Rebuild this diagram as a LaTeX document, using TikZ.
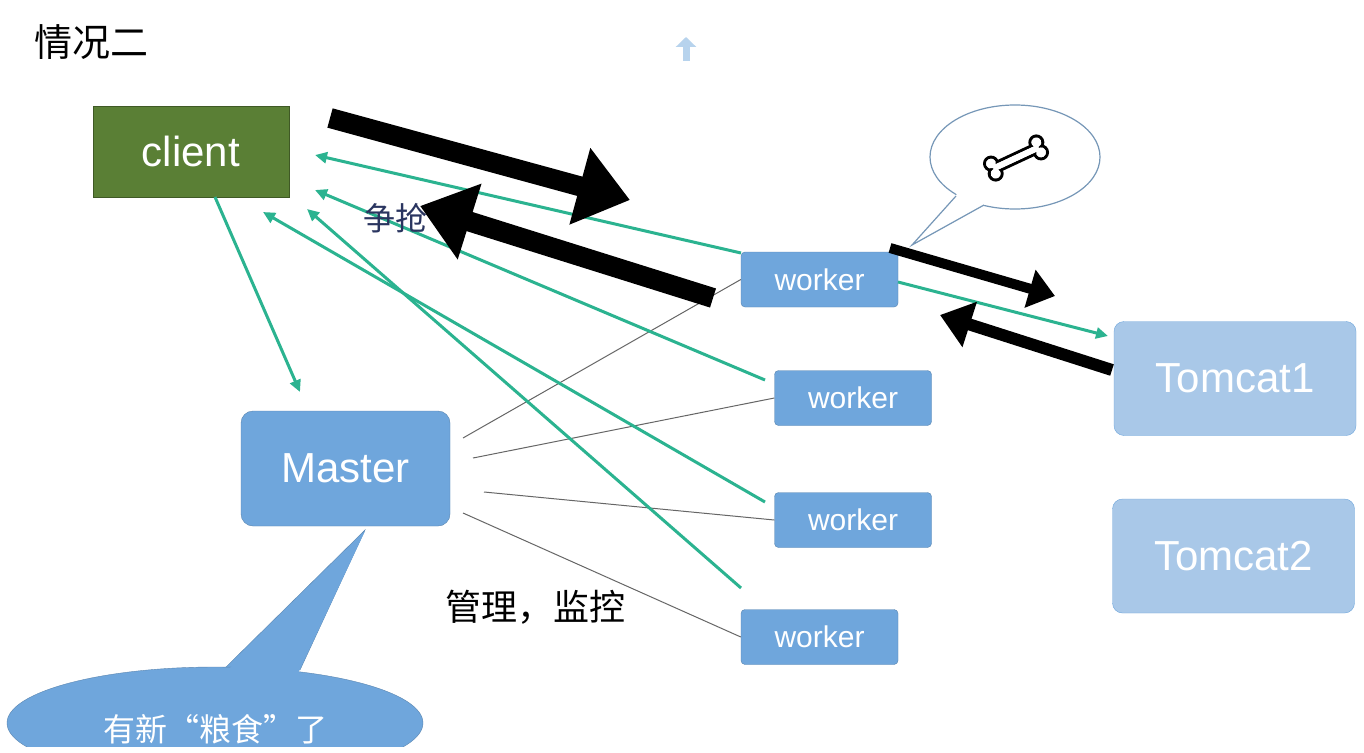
\documentclass[tikz,border=0pt]{standalone}
\usepackage{fontspec}
\setmainfont{Liberation Sans}
\newfontfamily\cjk{Noto Sans CJK SC}
\usetikzlibrary{arrows.meta,shapes.geometric}
\definecolor{boxblue}{HTML}{6FA6DC}
\definecolor{lightblue}{HTML}{A9C8E8}
\definecolor{teal}{HTML}{2BB390}
\definecolor{olive}{HTML}{5A7F35}
\definecolor{navy}{HTML}{2A3560}
\tikzset{
 wbox/.style={draw=boxblue!80!black,fill=boxblue,rounded corners=4pt,text=white,font=\fontsize{30}{30}\selectfont,minimum width=157pt,minimum height=55pt},
 tbox/.style={draw=boxblue,fill=lightblue,rounded corners=10pt,text=white,font=\fontsize{42}{42}\selectfont,minimum width=242pt,minimum height=114pt},
 tarr/.style={teal,line width=3pt,-{Triangle[length=12pt,width=11pt]}},
 garr/.style={gray!80!black,line width=1pt},
 barr/.style={line width=#1,-{Triangle[length=2.6*#1,width=3.8*#1]}},
}
\begin{document}
\begin{tikzpicture}[x=1pt,y=-1pt]
\useasboundingbox (0,0) rectangle (1364,752);
\fill[white] (0,0) rectangle (1364,752);
\node[anchor=west,font=\cjk\fontsize{38}{38}\selectfont] (title) at (31,42) {情况二};
\draw[boxblue!50,line width=7pt,-{Triangle[length=10pt,width=20pt]}] (686,61) -- (686,37);
\node[draw=olive!70!black,fill=olive,text=white,minimum width=196pt,minimum height=91pt,font=\fontsize{42}{42}\selectfont] (client) at (191,151.5) {client};
\node[draw=boxblue!80!black,fill=boxblue,rounded corners=12pt,minimum width=209pt,minimum height=115pt,text=white,font=\fontsize{42}{42}\selectfont] (master) at (345.5,468.5) {Master};
\node[wbox] (w1) at (819.5,279.5) {worker};
\node[wbox] (w2) at (853,398) {worker};
\node[wbox] (w3) at (853,520) {worker};
\node[wbox] (w4) at (819.5,637) {worker};
\node[tbox] (t1) at (1235,378.5) {Tomcat1};
\node[tbox] (t2) at (1233.5,556) {Tomcat2};
% gray lines
\draw[garr] (463,438) -- (w1.west);
\draw[garr] (473,458) -- (w2.west);
\draw[garr] (484,492) -- (w3.west);
\draw[garr] (463,513) -- (w4.west);
% teal arrows
\coordinate (c1) at (215,197); \coordinate (m1) at (300,392);
\draw[tarr] (c1) -- (m1);
\coordinate (a1) at (315,155); \coordinate (a2) at (315,190); \coordinate (a3) at (263,212); \coordinate (a4) at (307,209);
\draw[tarr] (741,253) -- (a1);
\draw[tarr] (765,380) -- (a2);
\draw[tarr] (765,502) -- (a3);
\draw[tarr] (741,588) -- (a4);
\coordinate (tt) at (1108,336);
\draw[tarr] (898,282) -- (tt);
% black arrows
\coordinate (b1s) at (330,118); \coordinate (b1e) at (630,200);
\draw[barr=20pt] (b1s) -- (b1e);
\coordinate (b2s) at (713,298); \coordinate (b2e) at (420,206);
\draw[barr=20pt] (b2s) -- (b2e);
\coordinate (b3s) at (890,248); \coordinate (b3e) at (1055,296);
\draw[barr=10pt] (b3s) -- (b3e);
\coordinate (b4s) at (1112,370); \coordinate (b4e) at (940,315);
\draw[barr=12pt] (b4s) -- (b4e);
% texts
\node[text=navy,font=\cjk\fontsize{32}{32}\selectfont] (zq) at (395,218) {争抢};
\node[font=\cjk\fontsize{36}{36}\selectfont] (gl) at (535,607) {管理，监控};
% bone bubble
\node[ellipse,draw=boxblue!60!gray,line width=1.2pt,fill=white,minimum width=170pt,minimum height=104pt] (bub) at (1015,157) {};
\fill[white] (957,194) -- (912,245) -- (986,204) -- (990,200) -- (952,190) -- cycle;
\draw[boxblue!60!gray,line width=1.2pt] (956,196) -- (912,245) -- (984,205);
\begin{scope}[shift={(1016,158)},rotate=25]
\foreach \sx in {-1,1}{\foreach \sy in {-1,1}{
 \filldraw[line width=3pt,fill=white] (\sx*25,\sy*5.5) circle (6.5pt);}}
\filldraw[line width=3pt,fill=white] (-24,-4.5) rectangle (24,4.5);
\foreach \sx in {-1,1}{\foreach \sy in {-1,1}{
 \fill[white] (\sx*25,\sy*5.5) circle (5pt);}}
\fill[white] (-25,-3) rectangle (25,3);
\end{scope}
% blue callout
\begin{scope}
\clip (0,0) rectangle (1364,746);
\fill[boxblue,draw=boxblue!80!black] (225,668) -- (365,530) -- (300,670) -- cycle;
\node[ellipse,fill=boxblue,draw=boxblue!80!black,minimum width=416pt,minimum height=112pt] (call) at (215,723) {};
\fill[boxblue] (228,670) -- (365,531) -- (298,673) -- cycle;
\node[text=white,font=\cjk\fontsize{32}{32}\selectfont] (callt) at (215,729) {有新“粮食”了};
\end{scope}
\end{tikzpicture}
\end{document}
